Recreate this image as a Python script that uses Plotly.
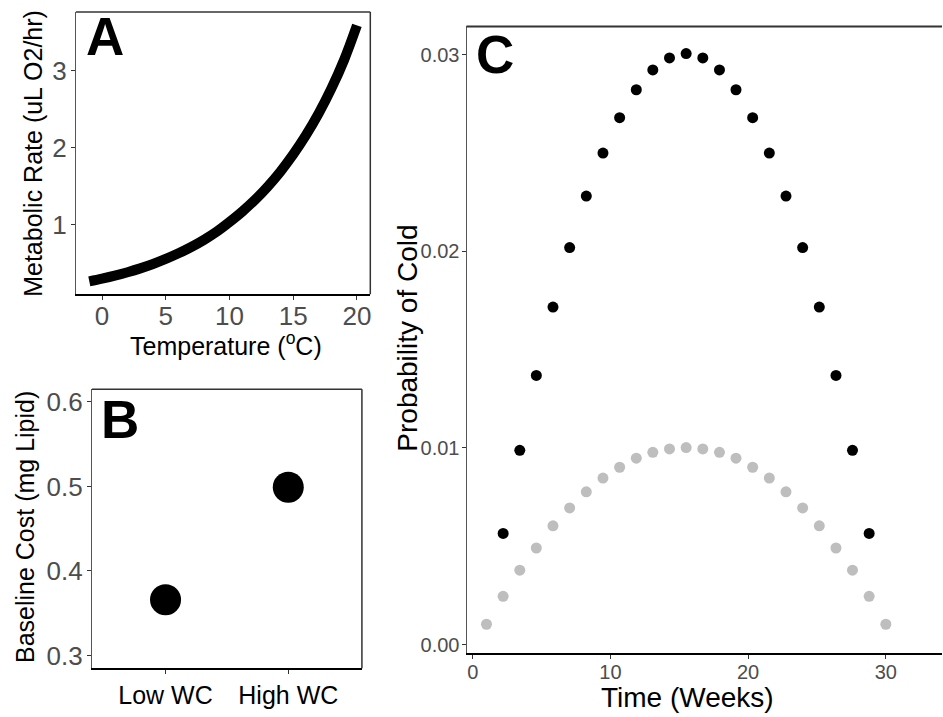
import plotly.graph_objects as go

W, H = 943, 717

# ---------------- data ----------------
# Panel A: metabolic rate vs temperature
temp_c = [-1, 0, 1, 2, 3, 4, 5, 6, 7, 8, 9, 10, 11, 12, 13, 14, 15, 16, 17, 18, 19, 20]
metab_rate = [0.265, 0.300, 0.339, 0.384, 0.434, 0.491, 0.556, 0.629, 0.711, 0.804, 0.910,
              1.035, 1.170, 1.322, 1.495, 1.690, 1.912, 2.162, 2.445, 2.768, 3.140, 3.585]

# Panel B: baseline cost
wc_groups = ["Low WC", "High WC"]
baseline_cost = [0.366, 0.499]

# Panel C: probability of cold over time
weeks_gray = [1.00, 2.21, 3.42, 4.62, 5.83, 7.04, 8.25, 9.46, 10.67, 11.88, 13.08, 14.29, 15.50,
              16.71, 17.92, 19.12, 20.33, 21.54, 22.75, 23.96, 25.17, 26.38, 27.58, 28.79, 30.00]
prob_gray = [0.00103, 0.00245, 0.00378, 0.00491, 0.00604, 0.00695, 0.00777, 0.00847, 0.00902,
             0.00948, 0.00978, 0.00995, 0.01002, 0.00995, 0.00978, 0.00948, 0.00902, 0.00847,
             0.00777, 0.00695, 0.00604, 0.00491, 0.00378, 0.00245, 0.00103]
weeks_black = [2.21, 3.42, 4.62, 5.83, 7.04, 8.25, 9.46, 10.67, 11.88, 13.08, 14.29, 15.50,
               16.71, 17.92, 19.12, 20.33, 21.54, 22.75, 23.96, 25.17, 26.38, 27.58, 28.79]
prob_black = [0.00565, 0.00988, 0.01369, 0.01717, 0.02020, 0.02282, 0.02501, 0.02681, 0.02823,
              0.02924, 0.02985, 0.03007, 0.02985, 0.02924, 0.02823, 0.02681, 0.02501, 0.02282,
              0.02020, 0.01717, 0.01369, 0.00988, 0.00565]

FONT = "Liberation Sans, Arial, sans-serif"
TICKCOL = "#4D4D4D"


def px(x):
    return x / W


def py(y):
    return 1 - y / H


fig = go.Figure()

fig.add_trace(go.Scatter(x=temp_c, y=metab_rate, mode="lines", line=dict(color="black", width=10, shape="spline"),
                         xaxis="x", yaxis="y", showlegend=False, hoverinfo="skip"))
fig.add_trace(go.Scatter(x=wc_groups, y=baseline_cost, mode="markers", marker=dict(color="black", size=31),
                         xaxis="x2", yaxis="y2", showlegend=False))
fig.add_trace(go.Scatter(x=weeks_black, y=prob_black, mode="markers", marker=dict(color="black", size=11),
                         xaxis="x3", yaxis="y3", showlegend=False))
fig.add_trace(go.Scatter(x=weeks_gray, y=prob_gray, mode="markers", marker=dict(color="#BEBEBE", size=11),
                         xaxis="x3", yaxis="y3", showlegend=False))

# panel rectangles (pixels)
A = (76, 370.7, 10, 294)
B = (92, 362.3, 389.3, 670)
C = (467, 943, 24.6, 655)

common_x = dict(showline=True, linecolor="black", linewidth=2, ticks="outside", ticklen=4,
                tickcolor="#333333", tickwidth=1, showgrid=False, zeroline=False)
common_y = dict(showline=True, linecolor="#555555", linewidth=1, ticks="outside", ticklen=4,
                tickcolor="#333333", tickwidth=1, showgrid=False, zeroline=False)

fig.update_layout(
    width=W, height=H, margin=dict(l=0, r=0, t=0, b=0),
    plot_bgcolor="white", paper_bgcolor="white",
    font=dict(family=FONT),
    xaxis=dict(domain=[px(A[0]), px(A[1])], anchor="y", range=[-2.05, 21.05], ticklabelstandoff=-7,
               tickvals=[0, 5, 10, 15, 20], tickfont=dict(size=26, color=TICKCOL), **common_x),
    yaxis=dict(domain=[py(A[3]), py(A[2])], anchor="x", range=[0.097, 3.76], ticklabelstandoff=-1,
               tickvals=[1, 2, 3], tickfont=dict(size=26, color=TICKCOL), **common_y),
    xaxis2=dict(domain=[px(B[0]), px(B[1])], anchor="y2", type="category", range=[-0.6, 1.6],
                tickfont=dict(size=25, color="black"), **common_x),
    yaxis2=dict(domain=[py(B[3]), py(B[2])], anchor="x2", range=[0.285, 0.615], ticklabelstandoff=-1,
                tickvals=[0.3, 0.4, 0.5, 0.6], tickformat=".1f", tickfont=dict(size=26, color=TICKCOL), **common_y),
    xaxis3=dict(domain=[px(C[0]), 1.0], anchor="y3", range=[-0.45, (943 - 472.7) / 13.8], ticklabelstandoff=-4,
                tickvals=[0, 10, 20, 30], tickfont=dict(size=20, color=TICKCOL), **common_x),
    yaxis3=dict(domain=[py(C[3]), py(C[2])], anchor="x3", range=[-0.00045, 0.03145], ticklabelstandoff=-2,
                tickvals=[0, 0.01, 0.02, 0.03], tickformat=".2f", tickfont=dict(size=20, color=TICKCOL), **common_y),
)

# border lines (top/right) in paper coords
shapes = []
for (l, r, t, b) in (A, B):
    shapes.append(dict(type="line", xref="paper", yref="paper", x0=px(l), x1=px(r), y0=py(t), y1=py(t),
                       line=dict(color="#333333", width=1.5)))
    shapes.append(dict(type="line", xref="paper", yref="paper", x0=px(r), x1=px(r), y0=py(t), y1=py(b),
                       line=dict(color="#333333", width=1.5)))
shapes.append(dict(type="line", xref="paper", yref="paper", x0=px(C[0]), x1=1.0, y0=py(C[2]), y1=py(C[2]),
                   line=dict(color="#333333", width=2)))
fig.update_layout(shapes=shapes)

ann = []


def add_text(text, x, y, size, angle=0, bold=False, xanchor="center", yanchor="middle"):
    ann.append(dict(text=f"<b>{text}</b>" if bold else text, x=px(x), y=py(y), xref="paper", yref="paper",
                    showarrow=False, textangle=angle, xanchor=xanchor, yanchor=yanchor,
                    font=dict(family=FONT, size=size, color="black")))


# panel letters
add_text("A", 84, 35, 53, bold=True, xanchor="left")
add_text("B", 99.5, 420, 53, bold=True, xanchor="left")
add_text("C", 474.5, 53, 53, bold=True, xanchor="left")

# axis titles
add_text("Metabolic Rate (uL O2/hr)", 33, 151.7, 25, angle=-90)
add_text("Temperature (<sup>o</sup>C)", 226, 344, 25)
add_text("Baseline Cost (mg Lipid)", 25, 528, 25, angle=-90)
add_text("Probability of Cold", 408, 338, 28, angle=-90)
add_text("Time (Weeks)", 688, 699, 28)

fig.update_layout(annotations=ann)

fig.write_html("out.html", config={"displayModeBar": False},
               post_script="document.body.style.margin='0px';document.body.style.overflow='hidden';")
